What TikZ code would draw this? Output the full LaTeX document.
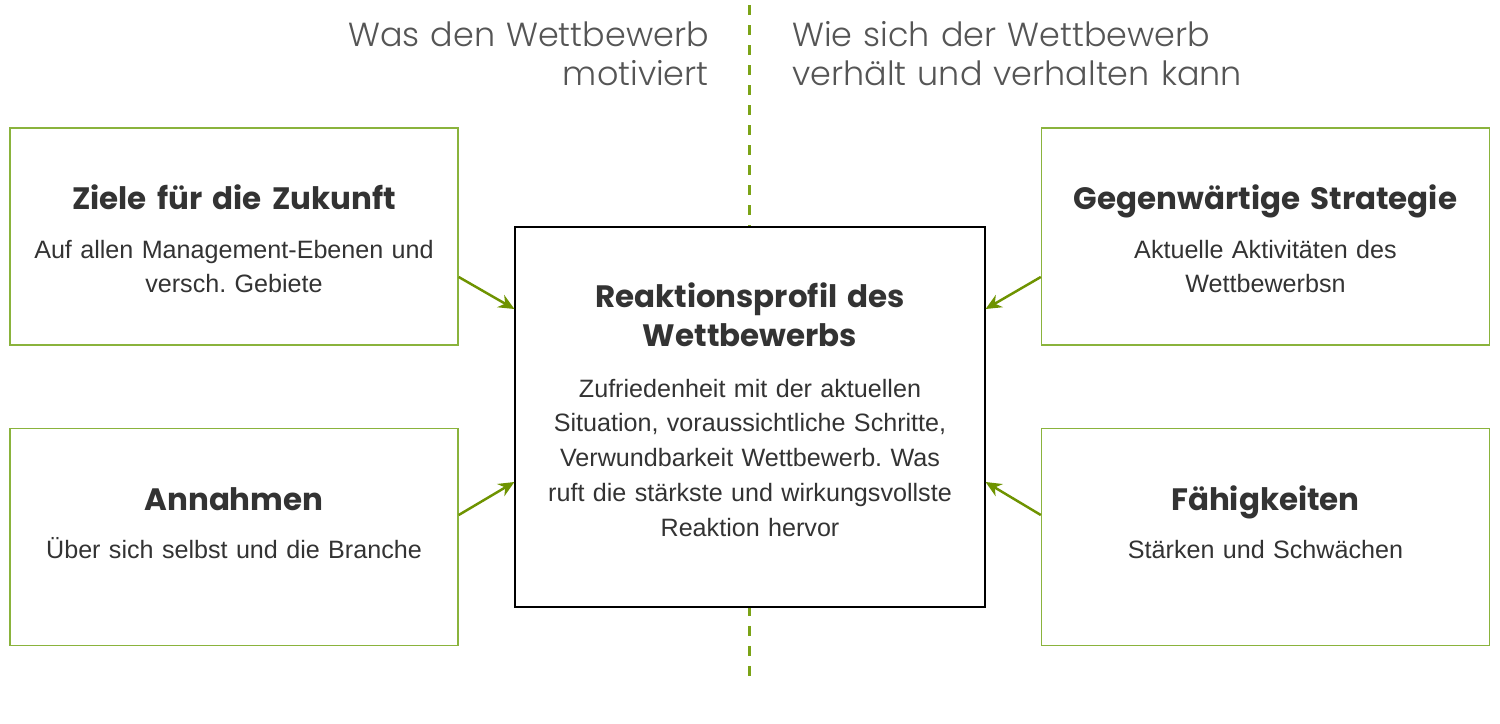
\documentclass[tikz,border=0pt]{standalone}
\usepackage{fontspec}
\setmainfont{Liberation Sans}
\newfontfamily\headfont{Poppins Light}
\newfontfamily\titlefont{Poppins Bold}
\usetikzlibrary{arrows.meta}
\usetikzlibrary{positioning}
\frenchspacing

\definecolor{boxgreen}{HTML}{8AB33C}
\definecolor{arrgreen}{HTML}{6E9300}
\definecolor{dashgreen}{HTML}{7BA317}
\definecolor{txtgray}{HTML}{333333}
\definecolor{headgray}{HTML}{555555}

\tikzset{
  tbox/.style={draw=boxgreen, line width=0.85pt, fill=white,
    minimum width=8.96cm, minimum height=4.34cm},
  rbox/.style={draw=black, line width=0.7pt, fill=white,
    minimum width=9.4cm, minimum height=7.6cm},
  ttl/.style={anchor=base, text=txtgray, text width=9cm, align=center,
    font=\titlefont\fontsize{17.6}{22.7}\selectfont},
  txt/.style={anchor=base, text=txtgray, text width=9.2cm, align=center,
    font=\fontsize{14.3}{19.6}\selectfont},
  head/.style={text=headgray, text width=9cm, inner sep=0pt,
    font=\headfont\fontsize{19}{22}\selectfont},
  arr/.style={->, arrgreen, line width=1.4pt}
}

\begin{document}
\begin{tikzpicture}[x=0.02cm, y=-0.02cm, >={Stealth[length=9pt,width=8pt]}]
  \path[use as bounding box] (0, 0) rectangle (1500, 723);

  % divider
  \draw[dashgreen, line width=1.7pt, dash pattern=on 5.7pt off 5.7pt] (749, 5) -- (749, 683);

  \node[head, anchor=base east, align=right] (hleft) at (709, 47) {Was den Wettbewerb\\motiviert};
  \node[head, anchor=base west, align=left] (hright) at (792, 47) {Wie sich der Wettbewerb\\verhält und verhalten kann};

  % boxes
  \node[tbox] (ziele) at (234, 236.5) {};
  \node[tbox] (annahmen) at (234, 537) {};
  \node[tbox] (strategie) at (1265.5, 236.5) {};
  \node[tbox] (faehig) at (1265.5, 537) {};
  \node[rbox] (react) at (750, 417) {};

  \node[ttl] (zieleT) at (234, 209) {Ziele für die Zukunft};
  \node[txt] (zieleB) at (234, 258) {Auf allen Management-Ebenen und\\versch. Gebiete};

  \node[ttl] (annahmenT) at (234, 510) {Annahmen};
  \node[txt] (annahmenB) at (234, 558) {Über sich selbst und die Branche};

  \node[ttl] (strategieT) at (1265.5, 209) {Gegenwärtige Strategie};
  \node[txt] (strategieB) at (1265.5, 258) {Aktuelle Aktivitäten des\\Wettbewerbsn};

  \node[ttl] (faehigT) at (1265.5, 510) {Fähigkeiten};
  \node[txt] (faehigB) at (1265.5, 558) {Stärken und Schwächen};

  \node[ttl] (reactT) at (750, 307) {Reaktionsprofil des\\Wettbewerbs};
  \node[txt, font=\fontsize{14.3}{19.8}\selectfont] (reactB) at (750, 397)
    {Zufriedenheit mit der aktuellen\\Situation, voraussichtliche Schritte,\\Verwundbarkeit Wettbewerb. Was\\ruft die stärkste und wirkungsvollste\\Reaktion hervor};

  % arrows
  \draw[arr] ([yshift=-0.81cm]ziele.east) -- ([yshift=2.16cm]react.west);
  \draw[arr] ([yshift=0.44cm]annahmen.east) -- ([yshift=-1.3cm]react.west);
  \draw[arr] ([yshift=-0.81cm]strategie.west) -- ([yshift=2.16cm]react.east);
  \draw[arr] ([yshift=0.44cm]faehig.west) -- ([yshift=-1.3cm]react.east);
\end{tikzpicture}
\end{document}
